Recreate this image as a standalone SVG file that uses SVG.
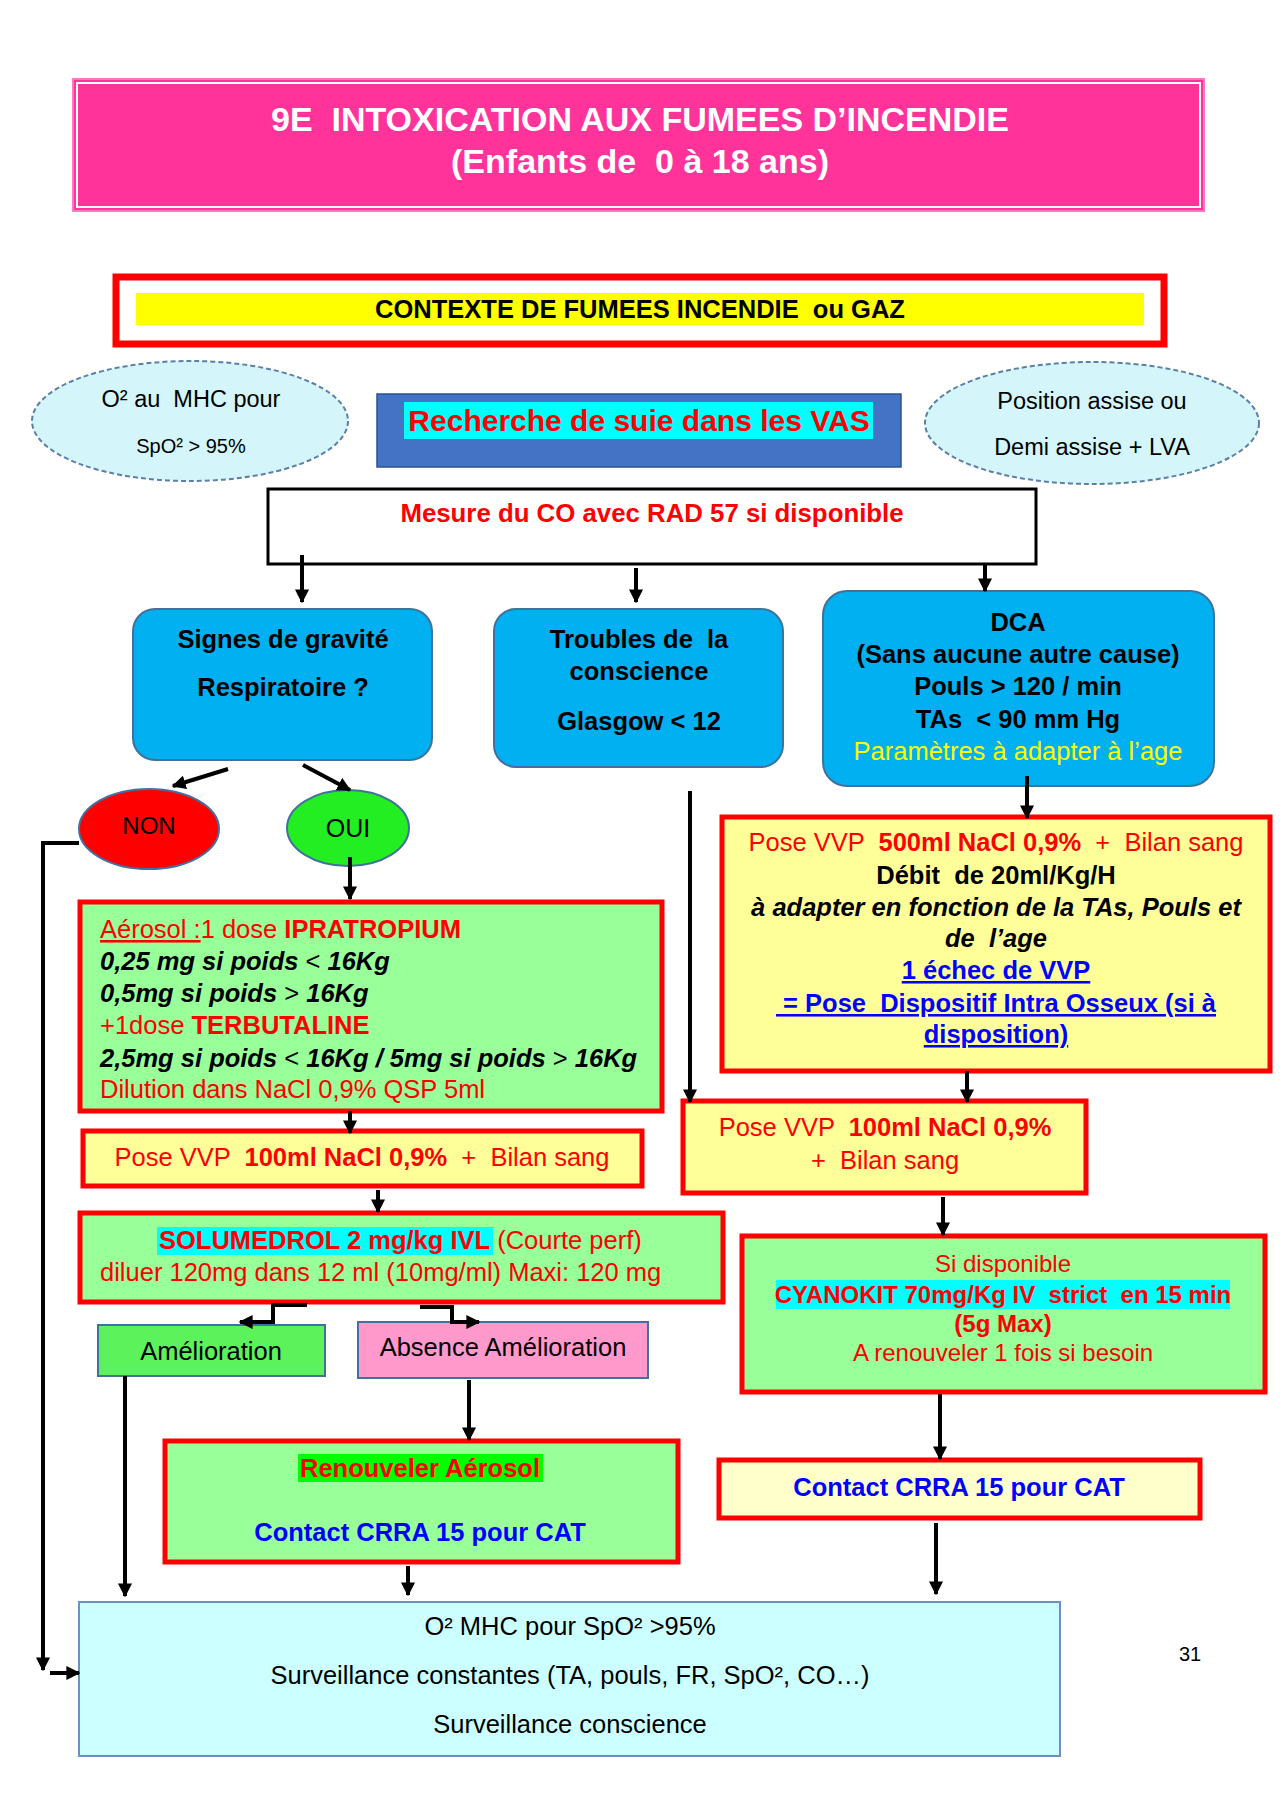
<svg xmlns="http://www.w3.org/2000/svg" width="1280" height="1812" viewBox="0 0 1280 1812">
<defs>
<marker id="ah" viewBox="0 0 10 10" refX="9" refY="5" markerWidth="14" markerHeight="14" markerUnits="userSpaceOnUse" orient="auto"><path d="M0,0 L10,5 L0,10 z" fill="#000"/></marker>
<style>
text{font-family:"Liberation Sans",Arial,sans-serif;font-size:25.5px}
.c{text-anchor:middle}
.b{font-weight:bold}
.bi{font-weight:bold;font-style:italic}
.red{fill:#FF0000}
.blue{fill:#0000FF}
.u{text-decoration:underline}
.gbox{fill:#99FF99;stroke:#FF0000;stroke-width:5}
.ybox{fill:#FFFF99;stroke:#FF0000;stroke-width:5}
.blu{fill:#00B0F0;stroke:#41719C;stroke-width:2}
.ell{fill:#D4F6FA;stroke:#5B7FA8;stroke-width:2;stroke-dasharray:5,3}
.ln{fill:none;stroke:#000;stroke-width:4;marker-end:url(#ah)}
</style>
</defs>
<rect width="1280" height="1812" fill="#FFFFFF"/>

<g id="title">
<rect x="73" y="79" width="1131" height="132" fill="#FF3399" stroke="#FF79BC" stroke-width="2"/>
<rect x="77" y="83" width="1123" height="124" fill="none" stroke="#FFFFFF" stroke-width="2"/>
<text x="640" y="131" class="c b" style="font-size:34px" fill="#FFFFFF" xml:space="preserve">9E  INTOXICATION AUX FUMEES D’INCENDIE</text>
<text x="640" y="173" class="c b" style="font-size:34px" fill="#FFFFFF" xml:space="preserve">(Enfants de  0 à 18 ans)</text>
</g>

<g id="contexte">
<rect x="116" y="277" width="1048" height="67" fill="#FFFFFF" stroke="#FF0000" stroke-width="7"/>
<rect x="136" y="293" width="1008" height="32" fill="#FFFF00"/>
<text x="640" y="318" class="c b" style="font-size:25.5px" xml:space="preserve">CONTEXTE DE FUMEES INCENDIE  ou GAZ</text>
</g>

<g id="o2-ellipse">
<ellipse cx="190" cy="421" rx="158" ry="60" class="ell"/>
<text x="191" y="407" class="c" style="font-size:23.5px" xml:space="preserve">O² au  MHC pour</text>
<text x="191" y="453" class="c" style="font-size:20px">SpO² &gt; 95%</text>
</g>

<g id="position-ellipse">
<ellipse cx="1092" cy="423" rx="167" ry="61" class="ell"/>
<text x="1092" y="409" class="c" style="font-size:23.5px">Position assise ou</text>
<text x="1092" y="455" class="c" style="font-size:23.5px">Demi assise + LVA</text>
</g>

<g id="recherche">
<rect x="377" y="394" width="524" height="73" fill="#4472C4" stroke="#2F528F" stroke-width="1.5"/>
<rect x="404" y="402" width="469" height="37" fill="#00FFFF"/>
<text x="639" y="431" class="c b red" style="font-size:30px">Recherche de suie dans les VAS</text>
</g>

<g id="mesure">
<rect x="268" y="489" width="768" height="75" fill="#FFFFFF" stroke="#000" stroke-width="3"/>
<text x="652" y="522" class="c b red" style="font-size:25.8px">Mesure du CO avec RAD 57 si disponible</text>
</g>

<g id="signes">
<rect x="133" y="609" width="299" height="151" rx="22" class="blu"/>
<text x="283" y="648" class="c b">Signes de gravité</text>
<text x="283" y="696" class="c b">Respiratoire ?</text>
</g>

<g id="troubles">
<rect x="494" y="609" width="289" height="158" rx="22" class="blu"/>
<text x="639" y="648" class="c b" xml:space="preserve">Troubles de  la</text>
<text x="639" y="680" class="c b">conscience</text>
<text x="639" y="730" class="c b">Glasgow &lt; 12</text>
</g>

<g id="dca">
<rect x="823" y="591" width="391" height="195" rx="24" class="blu"/>
<text x="1018" y="631" class="c b">DCA</text>
<text x="1018" y="663" class="c b">(Sans aucune autre cause)</text>
<text x="1018" y="695" class="c b">Pouls &gt; 120 / min</text>
<text x="1018" y="728" class="c b" xml:space="preserve">TAs  &lt; 90 mm Hg</text>
<text x="1018" y="760" class="c" fill="#FFFF00">Paramètres à adapter à l’age</text>
</g>

<g id="non">
<ellipse cx="149" cy="829" rx="70" ry="40" fill="#FF0000" stroke="#41719C" stroke-width="2"/>
<text x="149" y="834" class="c" style="font-size:24px">NON</text>
</g>

<g id="oui">
<ellipse cx="348" cy="828" rx="61" ry="38" fill="#22EE22" stroke="#41719C" stroke-width="2"/>
<text x="348" y="837" class="c" style="font-size:25px">OUI</text>
</g>

<g id="aerosol">
<rect x="80" y="902" width="582" height="209" class="gbox"/>
<text x="100" y="938" class="red"><tspan class="u">Aérosol :</tspan>1 dose <tspan class="b">IPRATROPIUM</tspan></text>
<text x="100" y="970" class="bi">0,25 mg si poids <tspan font-weight="normal" font-style="normal">&lt;</tspan> 16Kg</text>
<text x="100" y="1002" class="bi">0,5mg si poids <tspan font-weight="normal" font-style="normal">&gt;</tspan> 16Kg</text>
<text x="100" y="1034" class="red">+1dose <tspan class="b">TERBUTALINE</tspan></text>
<text x="100" y="1067" class="bi">2,5mg si poids <tspan font-weight="normal" font-style="normal">&lt;</tspan> 16Kg / 5mg si poids <tspan font-weight="normal" font-style="normal">&gt;</tspan> 16Kg</text>
<text x="100" y="1098" class="red">Dilution dans NaCl 0,9% QSP 5ml</text>
</g>

<g id="vvp100-left">
<rect x="83" y="1131" width="559" height="55" class="ybox"/>
<text x="362" y="1166" class="c red" xml:space="preserve">Pose VVP  <tspan class="b">100ml NaCl 0,9%</tspan>  +  Bilan sang</text>
</g>

<g id="solumedrol">
<rect x="80" y="1213" width="643" height="89" class="gbox"/>
<rect x="157" y="1227" width="336" height="28" fill="#00FFFF"/>
<text x="159" y="1249" class="red"><tspan class="b">SOLUMEDROL 2 mg/kg IVL</tspan> (Courte perf)</text>
<text x="100" y="1281" class="red">diluer 120mg dans 12 ml (10mg/ml) Maxi: 120 mg</text>
</g>

<g id="amelioration">
<rect x="98" y="1325" width="227" height="51" fill="#5CF25C" stroke="#41719C" stroke-width="2"/>
<text x="211" y="1360" class="c">Amélioration</text>
</g>

<g id="absence">
<rect x="358" y="1322" width="290" height="56" fill="#FF99CC" stroke="#41719C" stroke-width="2"/>
<text x="503" y="1356" class="c">Absence Amélioration</text>
</g>

<g id="renouveler">
<rect x="165" y="1441" width="513" height="121" class="gbox"/>
<rect x="298" y="1454" width="245" height="28" fill="#00FF00"/>
<text x="420" y="1477" class="c b red">Renouveler Aérosol</text>
<text x="420" y="1541" class="c b blue">Contact CRRA 15 pour CAT</text>
</g>

<g id="vvp500">
<rect x="722" y="817" width="548" height="254" class="ybox"/>
<text x="996" y="851" class="c red" xml:space="preserve">Pose VVP  <tspan class="b">500ml NaCl 0,9%</tspan>  +  Bilan sang</text>
<text x="996" y="884" class="c b" xml:space="preserve">Débit  de 20ml/Kg/H</text>
<text x="996" y="916" class="c bi">à adapter en fonction de la TAs, Pouls et</text>
<text x="996" y="947" class="c bi" xml:space="preserve">de  l’age</text>
<text x="996" y="979" class="c b blue u">1 échec de VVP</text>
<text x="996" y="1012" class="c b blue u" xml:space="preserve"> = Pose  Dispositif Intra Osseux (si à</text>
<text x="996" y="1043" class="c b blue u">disposition)</text>
</g>

<g id="vvp100-right">
<rect x="683" y="1101" width="403" height="92" class="ybox"/>
<text x="885" y="1136" class="c red" xml:space="preserve">Pose VVP  <tspan class="b">100ml NaCl 0,9%</tspan></text>
<text x="885" y="1169" class="c red" xml:space="preserve">+  Bilan sang</text>
</g>

<g id="cyanokit">
<rect x="742" y="1236" width="523" height="156" class="gbox"/>
<rect x="776" y="1280" width="454" height="29" fill="#00FFFF"/>
<text x="1003" y="1272" class="c red" style="font-size:24px">Si disponible</text>
<text x="1003" y="1303" class="c b red" style="font-size:24px" xml:space="preserve">CYANOKIT 70mg/Kg IV  strict  en 15 min</text>
<text x="1003" y="1332" class="c b red" style="font-size:24px">(5g Max)</text>
<text x="1003" y="1361" class="c red" style="font-size:24px">A renouveler 1 fois si besoin</text>
</g>

<g id="contact-right">
<rect x="719" y="1460" width="481" height="58" fill="#FFFFCC" stroke="#FF0000" stroke-width="5"/>
<text x="959" y="1496" class="c b blue">Contact CRRA 15 pour CAT</text>
</g>

<g id="surveillance">
<rect x="79" y="1602" width="981" height="154" fill="#CCFFFF" stroke="#6E8FBF" stroke-width="2"/>
<text x="570" y="1635" class="c">O² MHC pour SpO² &gt;95%</text>
<text x="570" y="1684" class="c">Surveillance constantes (TA, pouls, FR, SpO², CO…)</text>
<text x="570" y="1733" class="c">Surveillance conscience</text>
</g>

<text x="1190" y="1661" class="c" style="font-size:20px">31</text>

<g id="connectors">
<path d="M302,555 V602" class="ln"/>
<path d="M636,568 V602" class="ln"/>
<path d="M985,564 V591" class="ln"/>
<path d="M228,769 L173,786" class="ln"/>
<path d="M303,765 L350,790" class="ln"/>
<path d="M350,857 V899" class="ln"/>
<path d="M79,843 H43 V1670" class="ln"/>
<path d="M50,1673 H79" class="ln"/>
<path d="M350,1111 V1133" class="ln"/>
<path d="M378,1190 V1212" class="ln"/>
<path d="M307,1305 H273 V1322 H240" class="ln"/>
<path d="M420,1307 H452 V1322 H479" class="ln"/>
<path d="M469,1380 V1440" class="ln"/>
<path d="M125,1376 V1596" class="ln"/>
<path d="M408,1566 V1595" class="ln"/>
<path d="M690,791 V1102" class="ln"/>
<path d="M1027,776 V818" class="ln"/>
<path d="M967,1071 V1102" class="ln"/>
<path d="M943,1197 V1235" class="ln"/>
<path d="M940,1394 V1459" class="ln"/>
<path d="M936,1523 V1594" class="ln"/>
</g>
</svg>
